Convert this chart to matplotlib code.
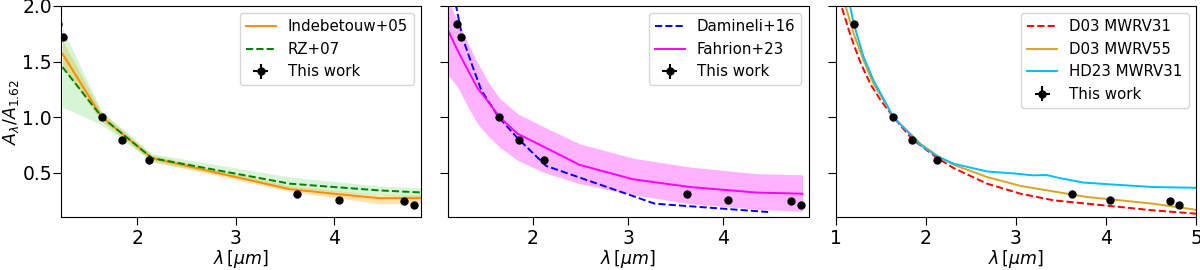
import numpy as np
import matplotlib
matplotlib.use("Agg")
import matplotlib.pyplot as plt

matplotlib.rcParams['font.size'] = 13
matplotlib.rcParams['xtick.labelsize'] = 13.5
matplotlib.rcParams['ytick.labelsize'] = 13.5
matplotlib.rcParams['legend.fontsize'] = 10.8
matplotlib.rcParams['xtick.major.size'] = 6
matplotlib.rcParams['ytick.major.size'] = 5.5
matplotlib.rcParams['xtick.major.pad'] = 3
matplotlib.rcParams['ytick.major.pad'] = 1

# This work
lam_tw = [1.20, 1.25, 1.64, 1.85, 2.12, 3.62, 4.05, 4.71, 4.81]
A_tw = [1.84, 1.72, 1.00, 0.79, 0.61, 0.31, 0.25, 0.24, 0.21]
lamerr_tw = [0.01, 0.01, 0.01, 0.01, 0.01, 0.01, 0.01, 0.01, 0.01]
Aerr_tw = [0.01, 0.01, 0.01, 0.01, 0.01, 0.01, 0.01, 0.01, 0.01]
# points shown in the last panel (no 1.25 point there)
use_p3 = [True, False, True, True, True, True, True, True, True]

# Indebetouw+05
lam_i05 = [1.24, 1.64, 2.15, 3.55, 4.45, 4.90]
A_i05 = [1.57, 1.00, 0.63, 0.35, 0.27, 0.27]
A_i05_lo = [1.45, 0.96, 0.60, 0.33, 0.22, 0.22]
A_i05_hi = [1.69, 1.04, 0.66, 0.38, 0.30, 0.30]

# RZ+07
lam_rz07 = [1.24, 1.64, 2.15, 3.55, 4.45, 4.90]
A_rz07 = [1.45, 1.00, 0.63, 0.40, 0.34, 0.32]
A_rz07_lo = [1.09, 0.93, 0.60, 0.36, 0.30, 0.28]
A_rz07_hi = [1.80, 1.05, 0.67, 0.46, 0.38, 0.36]

# Damineli+16
lam_d16 = [1.19, 1.26, 1.37, 1.46, 1.64, 1.84, 2.14, 3.28, 4.47]
A_d16 = [2.02, 1.72, 1.45, 1.24, 1.00, 0.81, 0.56, 0.22, 0.145]

# Fahrion+23
lam_f23 = [1.11, 1.21, 1.32, 1.42, 1.53, 1.65, 1.84, 2.12, 2.49, 3.05, 3.65, 4.35, 4.83]
A_f23 = [1.78, 1.60, 1.42, 1.26, 1.14, 1.00, 0.85, 0.73, 0.57, 0.44, 0.37, 0.32, 0.31]
A_f23_lo = [1.38, 1.27, 1.09, 0.94, 0.83, 0.73, 0.61, 0.50, 0.40, 0.30, 0.22, 0.17, 0.15]
A_f23_hi = [2.05, 1.87, 1.66, 1.49, 1.32, 1.17, 1.03, 0.91, 0.76, 0.63, 0.55, 0.49, 0.48]

# D03 MWRV31
lam_d31 = [1.07, 1.17, 1.28, 1.39, 1.50, 1.64, 1.85, 2.13, 2.31, 2.68, 3.05, 3.42, 3.79, 4.16, 4.52, 5.0]
A_d31 = [1.98, 1.72, 1.48, 1.29, 1.15, 1.00, 0.80, 0.63, 0.54, 0.40, 0.31, 0.25, 0.22, 0.19, 0.16, 0.13]

# D03 MWRV55
lam_d55 = [1.11, 1.20, 1.31, 1.42, 1.54, 1.64, 1.94, 2.13, 2.31, 2.68, 3.05, 3.42, 3.79, 4.16, 4.52, 5.0]
A_d55 = [2.00, 1.75, 1.51, 1.30, 1.14, 1.00, 0.76, 0.65, 0.57, 0.46, 0.38, 0.33, 0.28, 0.25, 0.22, 0.165]

# HD23 MWRV31
lam_hd23 = [1.16, 1.20, 1.31, 1.42, 1.54, 1.64, 1.94, 2.13, 2.31, 2.68, 3.01, 3.19, 3.34, 3.49, 3.75, 4.12, 4.52, 5.0]
A_hd23 = [2.00, 1.84, 1.54, 1.33, 1.15, 1.00, 0.75, 0.645, 0.58, 0.51, 0.49, 0.475, 0.478, 0.45, 0.41, 0.39, 0.37, 0.363]


def plot_this_work(ax, mask=None):
    lam, A = np.array(lam_tw), np.array(A_tw)
    le, ae = np.array(lamerr_tw), np.array(Aerr_tw)
    if mask is not None:
        m = np.array(mask)
        lam, A, le, ae = lam[m], A[m], le[m], ae[m]
    ax.errorbar(lam, A, xerr=le, yerr=ae, fmt='o', color='k', ms=5, label='This work')


fig, axes = plt.subplots(1, 3, figsize=(12, 2.7), sharey=True)
fig.subplots_adjust(left=0.0508, right=0.9967, bottom=0.1963, top=0.9778, wspace=0.075)

ax = axes[0]
ax.plot(lam_i05, A_i05, color='darkorange', lw=1.4, label='Indebetouw+05')
ax.fill_between(lam_i05, A_i05_lo, A_i05_hi, color='orange', alpha=0.3, lw=0)
ax.plot(lam_rz07, A_rz07, color='green', ls='--', lw=1.4, label='RZ+07')
ax.fill_between(lam_rz07, A_rz07_lo, A_rz07_hi, color='limegreen', alpha=0.2, lw=0)
plot_this_work(ax)
ax.set_xlim(1.225, 4.885)
ax.set_ylabel(r'$A_\lambda/A_{1.62}$', fontsize=12.5, labelpad=1)

ax = axes[1]
ax.plot(lam_d16, A_d16, color='blue', ls='--', lw=1.4, label='Damineli+16')
ax.plot(lam_f23, A_f23, color='magenta', lw=1.4, label='Fahrion+23')
ax.fill_between(lam_f23, A_f23_lo, A_f23_hi, color='magenta', alpha=0.3, lw=0)
plot_this_work(ax)
ax.set_xlim(1.113, 4.895)

ax = axes[2]
ax.plot(lam_d31, A_d31, color='red', ls='--', lw=1.4, label='D03 MWRV31')
ax.plot(lam_d55, A_d55, color='goldenrod', lw=1.4, label='D03 MWRV55')
ax.plot(lam_hd23, A_hd23, color='deepskyblue', lw=1.4, label='HD23 MWRV31')
plot_this_work(ax, use_p3)
ax.set_xlim(1, 5)
ax.set_xticks([1, 2, 3, 4, 5])

for ax in axes:
    ax.set_ylim(0.1, 2.0)
    ax.set_yticks([0.5, 1.0, 1.5, 2.0])
    ax.set_xlabel(r'$\lambda\,[\mu m]$', fontsize=12.5, labelpad=0)
    ax.legend(loc='upper right')

plt.savefig('out.png', dpi=100)
plt.close()
